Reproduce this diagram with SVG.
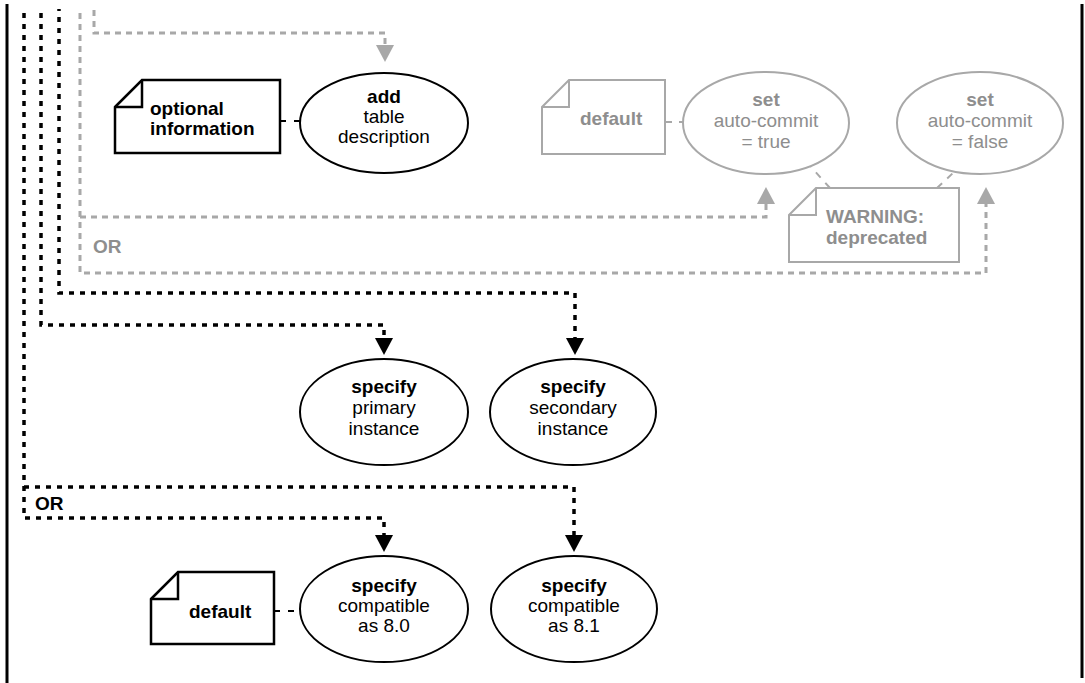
<svg xmlns="http://www.w3.org/2000/svg" width="1085" height="683" viewBox="0 0 1085 683">
  <style>
    text { font-family: "Liberation Sans", Arial, Helvetica, sans-serif; font-size: 19px; }
    .b { font-weight: bold; }
    .dk { fill: #000; }
    .gy { fill: #8e8e8e; }
    .node-k { fill: #fff; stroke: #000; stroke-width: 2; }
    .note-k { fill: #fff; stroke: #000; stroke-width: 2.5; }
    .node-g { fill: #fff; stroke: #a8a8a8; stroke-width: 2; }
    .fold-k { fill: none; stroke: #000; stroke-width: 2.5; }
    .fold-g { fill: none; stroke: #a8a8a8; stroke-width: 2; }
    .flow-k { fill: none; stroke: #000; stroke-width: 3.5; stroke-dasharray: 5 6; }
    .flow-g { fill: none; stroke: #a8a8a8; stroke-width: 3; stroke-dasharray: 6 5; }
    .link-k { fill: none; stroke: #000; stroke-width: 2; stroke-dasharray: 6 8; }
    .link-g { fill: none; stroke: #a8a8a8; stroke-width: 2; stroke-dasharray: 7 7; }
    .frame { fill: none; stroke: #000; stroke-width: 3; }
  </style>
  <defs>
    <marker id="head-k" markerUnits="userSpaceOnUse" markerWidth="17" markerHeight="18" refX="0" refY="9" orient="auto">
      <path d="M0,0 L17,9 L0,18 Z" fill="#000"/>
    </marker>
    <marker id="head-g" markerUnits="userSpaceOnUse" markerWidth="17" markerHeight="18" refX="0" refY="9" orient="auto">
      <path d="M0,0 L17,9 L0,18 Z" fill="#a8a8a8"/>
    </marker>
  </defs>

  <!-- side rails -->
  <g id="frame">
    <line class="frame" x1="7" y1="4" x2="7" y2="683"/>
    <line class="frame" x1="1082" y1="4" x2="1082" y2="678"/>
  </g>

  <!-- connectors -->
  <g id="connectors">
    <!-- deprecated auto-commit branches (gray) -->
    <path class="flow-g" d="M94,10 V33 H385 V45" marker-end="url(#head-g)"/>
    <path class="flow-g" d="M80,13 V273 H986 V204" marker-end="url(#head-g)"/>
    <path class="flow-g" d="M80,217 H766 V204" marker-end="url(#head-g)"/>
    <!-- instance branches -->
    <path class="flow-k" d="M59,9 V293 H575 V338" marker-end="url(#head-k)" stroke-dashoffset="3"/>
    <path class="flow-k" d="M41,13 V325 H384 V338" marker-end="url(#head-k)"/>
    <!-- compatibility branches -->
    <path class="flow-k" d="M24,13 V518 H384 V535" marker-end="url(#head-k)"/>
    <path class="flow-k" d="M24,487 H574 V535" marker-end="url(#head-k)"/>
    <!-- note links -->
    <path class="link-k" d="M280,121 H300"/>
    <path class="link-k" d="M274,611 H301"/>
    <path class="link-g" d="M665,122 H684"/>
    <path class="link-g" d="M830,188 L811,167"/>
    <path class="link-g" d="M937,188 L953,173"/>
  </g>

  <!-- OR labels -->
  <text class="b gy" x="93" y="253">OR</text>
  <text class="b dk" x="35" y="510">OR</text>

  <!-- notes -->
  <g id="note-optional">
    <path class="note-k" d="M115,107 L142,80 H280 V153 H115 Z"/>
    <path class="fold-k" d="M142,80 V107 H115"/>
    <text class="b dk" x="150" y="115">optional</text>
    <text class="b dk" x="150" y="135">information</text>
  </g>
  <g id="note-default-autocommit">
    <path class="node-g" d="M542,107 L569,80 H665 V154 H542 Z"/>
    <path class="fold-g" d="M569,80 V107 H542"/>
    <text class="b gy" x="580" y="125">default</text>
  </g>
  <g id="note-warning">
    <path class="node-g" d="M789,215 L816,188 H959 V262 H789 Z"/>
    <path class="fold-g" d="M816,188 V215 H789"/>
    <text class="b gy" x="826" y="223">WARNING:</text>
    <text class="b gy" x="826" y="244">deprecated</text>
  </g>
  <g id="note-default-compat">
    <path class="note-k" d="M151,599 L178,572 H274 V644 H151 Z"/>
    <path class="fold-k" d="M178,572 V599 H151"/>
    <text class="b dk" x="189" y="618">default</text>
  </g>

  <!-- actions -->
  <g id="add-table-description" text-anchor="middle">
    <ellipse class="node-k" cx="384" cy="123" rx="84" ry="50"/>
    <text class="b dk" x="384" y="103">add</text>
    <text class="dk" x="384" y="123">table</text>
    <text class="dk" x="384" y="143">description</text>
  </g>
  <g id="set-autocommit-true" text-anchor="middle">
    <ellipse class="node-g" cx="766" cy="123" rx="83" ry="51"/>
    <text class="b gy" x="766" y="106">set</text>
    <text class="gy" x="766" y="127">auto-commit</text>
    <text class="gy" x="766" y="148">= true</text>
  </g>
  <g id="set-autocommit-false" text-anchor="middle">
    <ellipse class="node-g" cx="980" cy="123" rx="83" ry="51"/>
    <text class="b gy" x="980" y="106">set</text>
    <text class="gy" x="980" y="127">auto-commit</text>
    <text class="gy" x="980" y="148">= false</text>
  </g>
  <g id="specify-primary" text-anchor="middle">
    <ellipse class="node-k" cx="384" cy="412" rx="84" ry="53"/>
    <text class="b dk" x="384" y="393">specify</text>
    <text class="dk" x="384" y="414">primary</text>
    <text class="dk" x="384" y="435">instance</text>
  </g>
  <g id="specify-secondary" text-anchor="middle">
    <ellipse class="node-k" cx="573" cy="412" rx="83" ry="53"/>
    <text class="b dk" x="573" y="393">specify</text>
    <text class="dk" x="573" y="414">secondary</text>
    <text class="dk" x="573" y="435">instance</text>
  </g>
  <g id="specify-compat-80" text-anchor="middle">
    <ellipse class="node-k" cx="384" cy="609" rx="84" ry="53"/>
    <text class="b dk" x="384" y="592">specify</text>
    <text class="dk" x="384" y="612">compatible</text>
    <text class="dk" x="384" y="632">as 8.0</text>
  </g>
  <g id="specify-compat-81" text-anchor="middle">
    <ellipse class="node-k" cx="574" cy="609" rx="83" ry="53"/>
    <text class="b dk" x="574" y="592">specify</text>
    <text class="dk" x="574" y="612">compatible</text>
    <text class="dk" x="574" y="632">as 8.1</text>
  </g>
</svg>
